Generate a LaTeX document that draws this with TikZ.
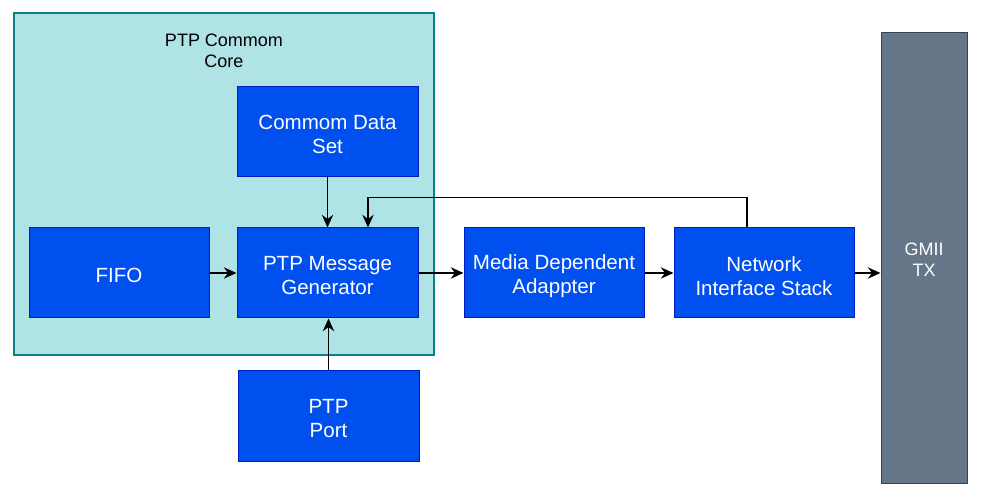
\documentclass[tikz,border=0pt]{standalone}
\usepackage{fontspec}
\setmainfont{Liberation Sans}
\usetikzlibrary{arrows.meta,calc}
\definecolor{corefill}{HTML}{B0E3E6}
\definecolor{coreline}{HTML}{0E8088}
\definecolor{bluefill}{HTML}{0050EF}
\definecolor{blueline}{HTML}{001DBC}
\definecolor{grayfill}{HTML}{647687}
\definecolor{grayline}{HTML}{314354}
\begin{document}
\begin{tikzpicture}[x=0.75pt,y=-0.75pt,
  block/.style={draw=blueline,fill=bluefill,line width=0.75pt,
    minimum width=135.75pt,minimum height=67.5pt,inner sep=0pt},
  btext/.style={text=white,inner sep=0pt,align=center,yshift=-2.2pt,
    font=\fontsize{15.4pt}{18pt}\selectfont},
  conn/.style={line width=1.1pt,-{Stealth[length=9.5pt,width=8.5pt]}},
]
\useasboundingbox (0,0) rectangle (984,498);
\node[draw=coreline,fill=corefill,line width=1.1pt,minimum width=315pt,minimum height=256.5pt,inner sep=0pt] (core) at (224,184) {};
\node[align=center,font=\fontsize{13.5pt}{15.8pt}\selectfont] (corelabel) at (224,51) {PTP Commom\\Core};
\node[block,label={[btext]center:{Commom Data\\Set}}] (cds) at (327.5,132) {};
\node[block,minimum width=135pt,label={[btext]center:{FIFO}}] (fifo) at (119,273) {};
\node[block,label={[btext]center:{PTP Message\\Generator}}] (pmg) at (327.5,273) {};
\node[block,minimum width=135pt,label={[btext]center:{Media Dependent\\Adappter}}] (mda) at (554,273) {};
\node[block,minimum width=135pt,label={[btext]center:{Network\\Interface Stack}}] (nis) at (764,273) {};
\node[block,label={[btext]center:{PTP\\Port}}] (port) at (328.5,416) {};
\node[draw=grayline,fill=grayfill,line width=0.75pt,minimum width=64.5pt,minimum height=337.5pt,inner sep=0pt,
  label={[text=white,align=center,inner sep=0pt,yshift=-1.2pt,font=\fontsize{13.5pt}{15.8pt}\selectfont]center:{GMII\\TX}}] (gmii) at (924,258) {};
\draw[conn] (cds.south) -- (pmg.north);
\draw[conn] (fifo.east) -- (pmg.west);
\draw[conn] (pmg.east) -- (mda.west);
\draw[conn] (mda.east) -- (nis.west);
\draw[conn] (nis.east) -- (nis.east -| gmii.west);
\draw[conn] (port.north) -- (port.north |- pmg.south);
\coordinate (fbA) at ($(nis.north)+(-17,0)$);
\coordinate (fbB) at ($(pmg.north)+(40.5,0)$);
\draw[conn] (fbA) -- ($(fbA)+(0,-30)$) -| (fbB);
\end{tikzpicture}
\end{document}
